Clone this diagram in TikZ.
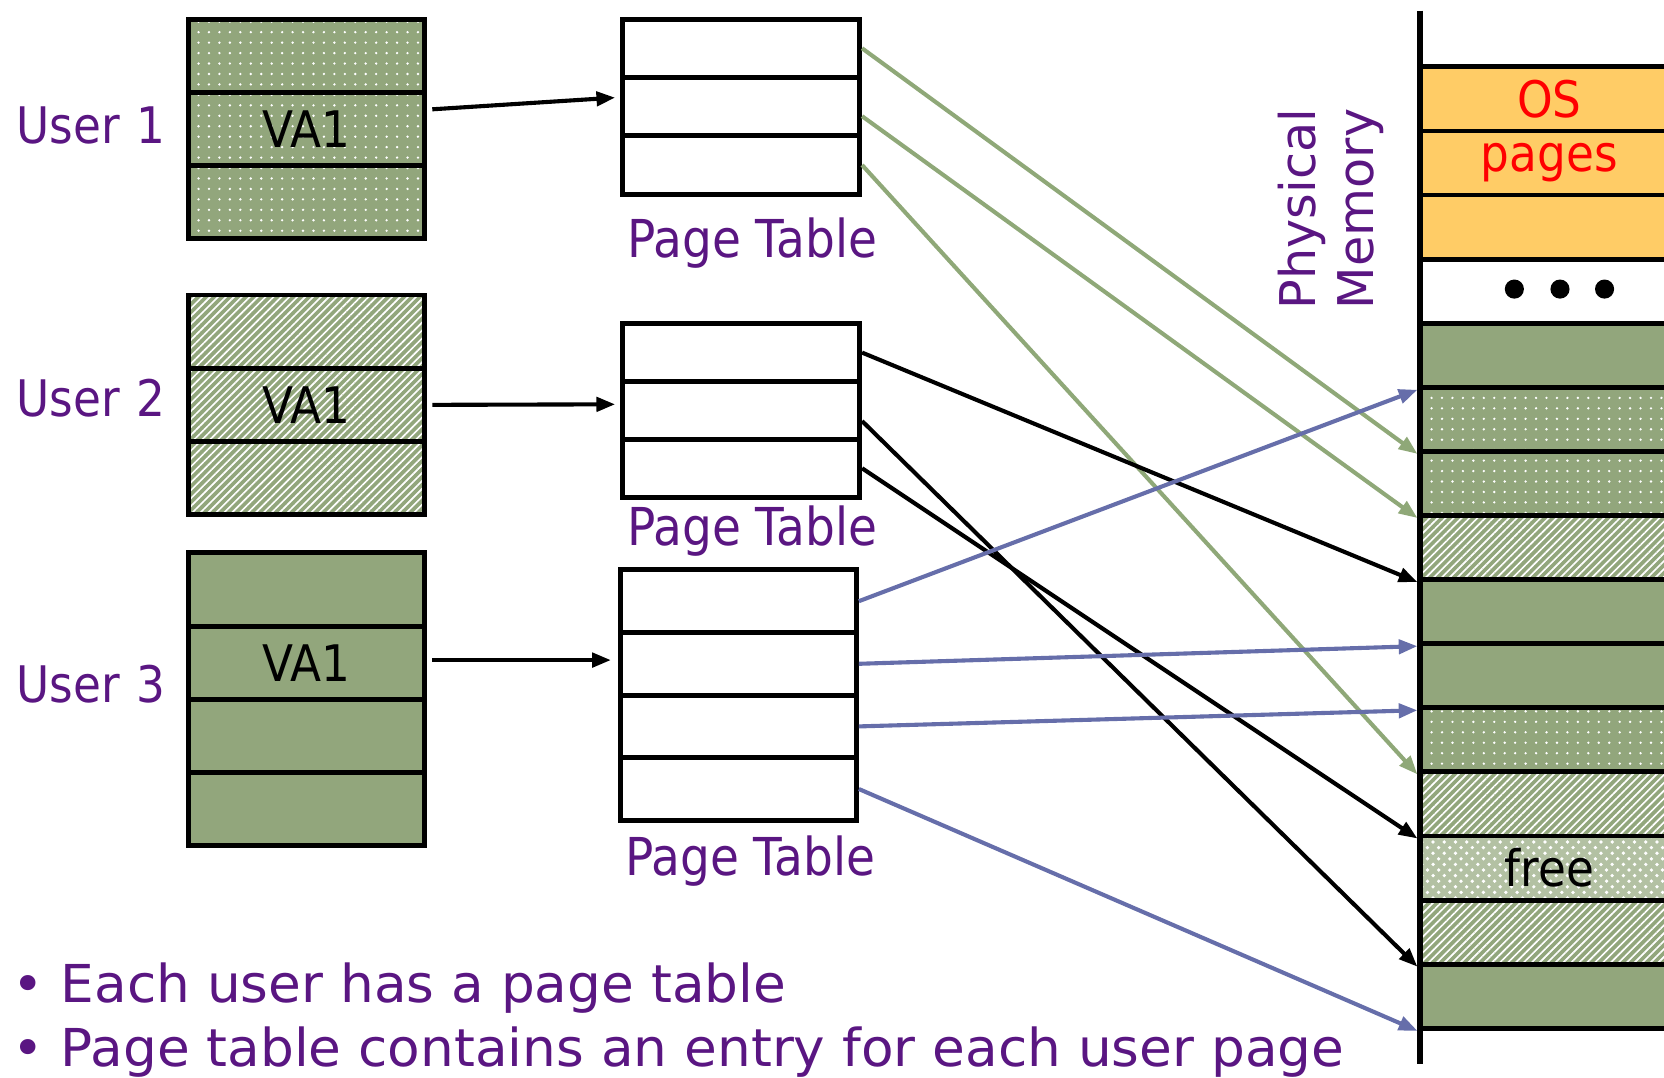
\documentclass[tikz,border=0pt]{standalone}
\usepackage{fontspec}
\setmainfont{DejaVu Sans}[FakeStretch=0.9]
\newfontfamily\plainfont{DejaVu Sans}
\newfontfamily\widefont{DejaVu Sans}[FakeStretch=1.02]
\usetikzlibrary{arrows.meta,patterns,patterns.meta}
\definecolor{txtpurple}{RGB}{90,22,130}
\definecolor{pagegreen}{RGB}{146,166,124}
\definecolor{osorange}{RGB}{255,204,102}
\definecolor{linkgreen}{RGB}{143,168,120}
\definecolor{linkblue}{RGB}{102,110,170}
\begin{document}
\begin{tikzpicture}
        [x=0.01cm,y=-0.01cm,
         every node/.style={inner sep=0pt,font=\fontsize{13.5}{16}\selectfont},
         cell/.style={draw,line width=1.3pt},
         usercell/.style={cell,minimum width=2.22cm,minimum height=0.69cm},
         ptcell/.style={cell,fill=white,minimum width=2.23cm},
         memcell/.style={cell,minimum width=2.44cm,minimum height=0.604cm},
         pgsolid/.style={fill=pagegreen},
         pgdots/.style={preaction={fill=pagegreen},pattern={Dots[distance=2.8pt,radius=0.35pt]},pattern color=white},
         pghatch/.style={preaction={fill=pagegreen},pattern={Lines[angle=45,distance=1.5pt,line width=0.45pt]},pattern color=white},
         pgfree/.style={preaction={fill=pagegreen!70!white},pattern=crosshatch dots,pattern color=white},
         osrow/.style={fill=osorange,text=red},
         blankrow/.style={fill=white},
         purplelabel/.style={text=txtpurple},
         ptlabel/.style={purplelabel,font=\fontsize{14}{16}\selectfont},
         ptr/.style={-{Triangle[length=5pt,width=3.8pt]},line width=1.1pt}]
        \useasboundingbox (0,0) rectangle (1568,1015);
        % users
        \foreach \r/\yy/\word in {a/52.5/,b/121.5/VA1,c/190.5/}
          \node[usercell,pgdots] (u1\r) at (289,\yy) {\word};
        \foreach \r/\yy/\word in {a/312.5/,b/381.5/VA1,c/450.5/}
          \node[usercell,pghatch] (u2\r) at (289,\yy) {\word};
        \foreach \r/\yy/\word in {a/555.5/,b/624.5/VA1,c/693.5/,d/762.5/}
          \node[usercell,pgsolid] (u3\r) at (289,\yy) {\word};
        \node[purplelabel,anchor=west] (user1) at (15,118) {User\,\,1};
        \node[purplelabel,anchor=west] (user2) at (15,375) {User\,\,2};
        \node[purplelabel,anchor=west] (user3) at (15,645) {User\,\,3};
        % page tables
        \foreach \r/\yy in {a/45.5,b/100.5,c/155.5}
          \node[ptcell,minimum height=0.55cm] (p1\r) at (698.5,\yy) {};
        \foreach \r/\yy in {a/332.25,b/386.75,c/441.25}
          \node[ptcell,minimum height=0.545cm] (p2\r) at (698.5,\yy) {};
        \foreach \r/\yy in {a/566.5,b/625.5,c/684.5,d/743.5}
          \node[ptcell,minimum width=2.22cm,minimum height=0.59cm] (p3\r) at (696,\yy) {};
        \node[ptlabel] (pt1) at (709,229) {Page Table};
        \node[ptlabel] (pt2) at (709,500) {Page Table};
        \node[ptlabel] (pt3) at (707,811) {Page Table};
        % physical memory
        \foreach \k/\kind/\word in {0/osrow/OS,1/osrow/pages,2/osrow/,3/blankrow/,4/pgsolid/,5/pgdots/,6/pgdots/,7/pghatch/,8/pgsolid/,9/pgsolid/,10/pgdots/,11/pghatch/,12/pgfree/free,13/pghatch/,14/pgsolid/}
          \node[memcell,\kind] (m\k) at (1460,{93.2+60.4*\k}) {\word};
        \foreach \dx in {-33,10,52}
          \fill ([shift={(\dx,-2)}]m3.center) circle[radius=0.09cm];
        \coordinate (memtop) at (1338,10);
        \coordinate (membot) at (1338,1003);
        \draw[line width=1.5pt] (memtop) -- (membot);
        \node[purplelabel,font=\plainfont\fontsize{13.2}{15.5}\selectfont,rotate=90,anchor=west,align=left] (phys) at (1254,292) {Physical\\Memory};
        % user -> page table
        \draw[ptr] ([shift={(5,-18.5)}]u1b.east) -- ([shift={(-5,-8.5)}]p1b.west);
        \draw[ptr] ([shift={(5,0)}]u2b.east) -- ([shift={(-5,-5.75)}]p2b.west);
        \draw[ptr] ([shift={(5,-2.5)}]u3b.east) -- ([shift={(-7,-3.5)}]p3b.west);
        % page table -> frames
        \coordinate (p1bout) at ([shift={(0,9)}]p1b.east);
        \coordinate (p2bout) at ([shift={(0,10)}]p2b.east);
        \foreach \from/\to in {p1a.east/m5.south west,p1bout/m6.south west,p1c.east/m10.south west}
          \draw[ptr,linkgreen] (\from) -- (\to);
        \foreach \from/\to in {p2a.east/m7.south west,p2bout/m13.south west,p2c.east/m11.south west}
          \draw[ptr] (\from) -- (\to);
        \foreach \from/\to in {p3a.east/m4.south west,p3b.east/m8.south west,p3c.east/m9.south west,p3d.east/m14.south west}
          \draw[ptr,linkblue] (\from) -- (\to);
        % notes
        \node[purplelabel,font=\widefont\fontsize{14}{16}\selectfont,anchor=base west] (note1) at (11,945) {• Each user has a page table};
        \node[purplelabel,font=\widefont\fontsize{14}{16}\selectfont,anchor=base west] (note2) at (11,1005) {• Page table contains an entry for each user page};
      \end{tikzpicture}
\end{document}
